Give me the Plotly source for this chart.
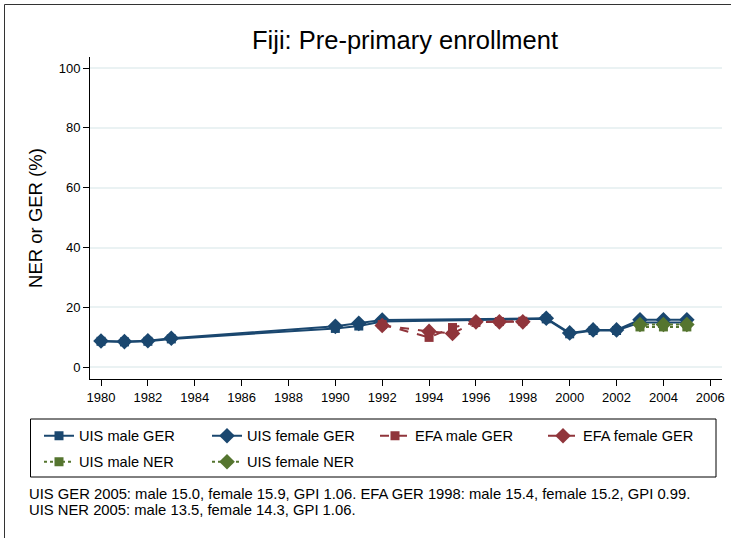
import plotly.graph_objects as go

# ---- data ----
uis_years = [1980, 1981, 1982, 1983, 1990, 1991, 1992, 1999, 2000, 2001, 2002, 2003, 2004, 2005]
uis_male_ger = [8.7, 8.5, 8.7, 9.5, 13.0, 13.8, 15.3, 16.2, 11.2, 12.3, 12.3, 15.0, 15.0, 15.0]
uis_female_ger = [8.8, 8.6, 8.9, 9.7, 13.7, 14.7, 15.8, 16.4, 11.5, 12.5, 12.5, 15.9, 15.9, 15.9]

efa_years = [1992, 1994, 1995, 1996, 1997, 1998]
efa_male_ger = [14.3, 10.0, 13.3, 15.0, 15.3, 15.4]
efa_female_ger = [14.0, 12.0, 11.3, 15.2, 15.2, 15.2]

ner_years = [2003, 2004, 2005]
uis_male_ner = [13.5, 13.5, 13.5]
uis_female_ner = [14.3, 14.3, 14.3]

x_ticks = list(range(1980, 2007, 2))
y_ticks = [0, 20, 40, 60, 80, 100]

title_text = "Fiji: Pre-primary enrollment"
y_title = "NER or GER (%)"
note_lines = ["UIS GER 2005: male 15.0, female 15.9, GPI 1.06. EFA GER 1998: male 15.4, female 15.2, GPI 0.99.",
              "UIS NER 2005: male 13.5, female 14.3, GPI 1.06."]

NAVY = "#1a476f"
MAROON = "#90353b"
GREEN = "#55752f"
FONT = "Liberation Sans, Arial, sans-serif"

fig = go.Figure()

def add(x, y, name, color, symbol, dash, msize, legend):
    fig.add_trace(go.Scatter(
        x=x, y=y, name=name, mode="lines+markers", legend=legend,
        line=dict(color=color, width=2, dash=dash),
        marker=dict(symbol=symbol, size=msize, color=color, line=dict(color=color, width=0)),
    ))

add(uis_years, uis_male_ger, "UIS male GER", NAVY, "square", "solid", 9, "legend")
add(uis_years, uis_female_ger, "UIS female GER", NAVY, "diamond", "solid", 12, "legend")
add(efa_years, efa_male_ger, "EFA male GER", MAROON, "square", "dash", 9, "legend")
add(efa_years, efa_female_ger, "EFA female GER", MAROON, "diamond", "dash", 12, "legend")
add(ner_years, uis_male_ner, "UIS male NER", GREEN, "square", "3px,3px", 9, "legend2")
add(ner_years, uis_female_ner, "UIS female NER", GREEN, "diamond", "3px,3px", 12, "legend2")

L, R, T, B = 90, 9, 57, 159
W, H = 731, 538
pw, ph = W - L - R, H - T - B

def px(xp):
    return (xp - L) / pw

def py(yp):
    return (H - B - yp) / ph

leg_common = dict(orientation="h", x=px(39), xanchor="left", yanchor="middle",
                  borderwidth=0, bgcolor="rgba(0,0,0,0)",
                  font=dict(size=14.6), entrywidth=123, traceorder="normal")

fig.update_layout(
    width=W, height=H,
    margin=dict(l=L, r=R, t=T, b=B, autoexpand=False),
    paper_bgcolor="white", plot_bgcolor="white",
    font=dict(family=FONT, color="#000000", size=13),
    title=dict(text=title_text, x=px(405), xanchor="center", xref="paper",
               y=1 - 40 / H, yanchor="middle", font=dict(size=25.5, color="#000")),
    xaxis=dict(range=[1979.53, 2006.5], tickvals=x_ticks, ticks="outside", ticklen=6,
               tickcolor="#000", showline=True, linecolor="#000", linewidth=1,
               showgrid=False, zeroline=False, tickfont=dict(size=13)),
    yaxis=dict(range=[-3.9, 103.7], tickvals=y_ticks, ticks="outside", ticklen=6,
               tickcolor="#000", showline=True, linecolor="#000", linewidth=1,
               showgrid=True, gridcolor="#eaf2f3", gridwidth=1.5, zeroline=False,
               tickfont=dict(size=13),
               title=dict(text=y_title, font=dict(size=18.5), standoff=11)),
    legend=dict(y=py(435.7), **leg_common),
    legend2=dict(y=py(461.7), **leg_common),
    showlegend=True,
)

# legend frame
fig.add_shape(type="rect", xref="paper", yref="paper",
              x0=px(30.5), x1=px(716), y0=py(477), y1=py(419),
              line=dict(color="#000", width=1), layer="below")

for i, line in enumerate(note_lines):
    fig.add_annotation(text=line, xref="paper", yref="paper", x=px(27), y=py(494 + 16 * i),
                       xanchor="left", yanchor="middle", align="left", showarrow=False,
                       font=dict(size=14.8))

# outer frame (top and left edges visible)
fig.add_shape(type="line", xref="paper", yref="paper",
              x0=px(4.5), x1=px(800), y0=py(4.5), y1=py(4.5),
              line=dict(color="#333", width=1))
fig.add_shape(type="line", xref="paper", yref="paper",
              x0=px(4.5), x1=px(4.5), y0=py(4.5), y1=py(800),
              line=dict(color="#333", width=1))

fig.write_html("out.html", config={"displayModeBar": False},
               post_script="document.body.style.margin='0';")
